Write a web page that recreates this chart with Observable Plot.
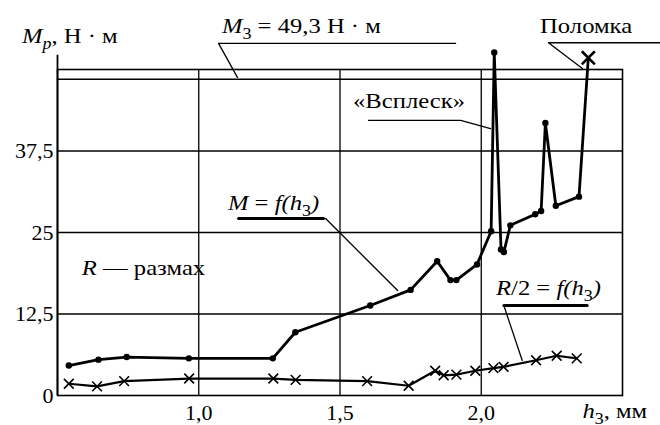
<!DOCTYPE html>
<html>
<head>
<meta charset="utf-8">
<script src="https://cdn.jsdelivr.net/npm/d3@7"></script>
<script src="https://cdn.jsdelivr.net/npm/@observablehq/plot@0.6"></script>
</head>
<body style="margin:0;background:#fff">
<div id="fig"></div>
<script>
// ---- data ----
const mH   = [0.54, 0.645, 0.745, 0.965, 1.262, 1.342, 1.607, 1.750, 1.844, 1.891, 1.912, 1.985, 2.035, 2.046, 2.070, 2.080, 2.103, 2.191, 2.212, 2.227, 2.264, 2.346];
const mVal = [4.6, 5.5, 5.9, 5.7, 5.7, 9.7, 13.8, 16.2, 20.6, 17.7, 17.7, 20.1, 25.2, 52.6, 22.4, 22.0, 26.1, 27.8, 28.3, 41.8, 29.1, 30.5];
const breakH = [2.379];
const breakVal = [51.8];
const rH   = [0.54, 0.64, 0.736, 0.966, 1.264, 1.343, 1.596, 1.743, 1.837, 1.867, 1.912, 1.979, 2.043, 2.079, 2.194, 2.267, 2.338];
const rVal = [1.8, 1.4, 2.2, 2.6, 2.6, 2.4, 2.2, 1.5, 3.8, 3.1, 3.2, 3.8, 4.2, 4.4, 5.4, 6.1, 5.7];
const m3Level = [48.5];
const xTicks = [1.0, 1.5, 2.0];
const yTicks = [0, 12.5, 25, 37.5];

// annotation texts (segments: text, style)
const labelTexts = [
  [["M","i"],["p","isub"],[", Н · м",""]],
  [["M","i"],["3","sub"],[" = 49,3 Н · м",""]],
  [["Поломка",""]],
  [["«Всплеск»",""]],
  [["M","i"],[" = ",""],["f(h","i"],["3","sub"],[")","i"]],
  [["R","i"],[" — размах",""]],
  [["R","i"],["/2 = ",""],["f(h","i"],["3","sub"],[")","i"]],
  [["h","i"],["3","sub"],[", мм",""]]
];
// anchor points (left end of baseline) of annotations, in data units (h3, M)
const labelH = [0.376, 1.084, 2.210, 1.548, 1.105, 0.588, 2.054, 2.36];
const labelM = [54.0, 55.5, 55.5, 44.0, 28.4, 18.4, 15.3, -3.5];

// leader lines and underlines, in data units
const thinLeaders = [
  [[1.909,54.0],[1.070,54.0],[1.137,48.8]],
  [[2.65,54.1],[2.238,54.1],[2.358,50.15]],
  [[1.601,42.2],[1.927,42.2],[2.033,40.95]],
  [[1.449,27.15],[1.704,16.1]],
  [[2.080,13.8],[2.145,5.37]]
];
const thickUnderlines = [
  [[1.141,27.15],[1.442,27.15]],
  [[2.080,13.8],[2.375,13.8]]
];

// ---- build tables ----
const mData = mH.map((h,i) => ({h, v: mVal[i]}));
const mLine = mData.concat(breakH.map((h,i) => ({h, v: breakVal[i]})));
const breakData = breakH.map((h,i) => ({h, v: breakVal[i]}));
const rData = rH.map((h,i) => ({h, v: rVal[i]}));
const flat = arr => arr.flatMap((pts, id) => pts.map(([h,v]) => ({id, h, v})));

const comma1 = d => d.toFixed(1).replace(".", ",");
const commaY = d => String(d).replace(".", ",");

const FONT = "Liberation Serif";

const plot = Plot.plot({
  width: 660,
  height: 425,
  marginLeft: 57,
  marginRight: 38,
  marginTop: 69,
  marginBottom: 30,
  x: {domain: [0.5, 2.5], ticks: xTicks, tickFormat: comma1, tickSize: 0, tickPadding: 9, label: null},
  y: {domain: [0, 50], ticks: yTicks, tickFormat: commaY, tickSize: 0, tickPadding: 4, label: null},
  marks: [
    Plot.ruleX(xTicks, {y1: 0, y2: 50, stroke: "#000", strokeWidth: 1.3}),
    Plot.ruleY(yTicks.filter(d => d > 0), {x1: 0.5, x2: 2.5, stroke: "#000", strokeWidth: 1.3}),
    Plot.ruleY(m3Level, {x1: 0.5, x2: 2.5, stroke: "#000", strokeWidth: 1.5}),
    Plot.frame({stroke: "#000", strokeWidth: 1.6}),
    Plot.ruleX([0.5], {y1: 0, y2: 52.2, stroke: "#000", strokeWidth: 1.8}),
    Plot.line(flat(thinLeaders), {x: "h", y: "v", z: "id", stroke: "#000", strokeWidth: 1.3}),
    Plot.line(flat(thickUnderlines), {x: "h", y: "v", z: "id", stroke: "#000", strokeWidth: 3}),
    Plot.line(rData, {x: "h", y: "v", stroke: "#000", strokeWidth: 2.2}),
    Plot.dot(rData, {x: "h", y: "v", symbol: "times", r: 4.5, stroke: "#000", strokeWidth: 1.6}),
    Plot.line(mLine, {x: "h", y: "v", stroke: "#000", strokeWidth: 2.8}),
    Plot.dot(mData, {x: "h", y: "v", r: 3.2, fill: "#000"}),
    Plot.dot(breakData, {x: "h", y: "v", symbol: "times", r: 6, stroke: "#000", strokeWidth: 2.6})
  ]
});

// scales for the annotations, taken from the plot itself
const sx = plot.scale("x"), sy = plot.scale("y");
const px = v => sx.apply ? sx.apply(v) : d3.scaleLinear(sx.domain, sx.range)(v);
const py = v => sy.apply ? sy.apply(v) : d3.scaleLinear(sy.domain, sy.range)(v);

const svg = d3.select(plot);
// drop Plot's generated class and stylesheet so only our own font settings apply
svg.selectAll("style").remove();
svg.attr("class", null)
   .attr("style", "display:block;background:#fff")
   .attr("font-family", FONT)
   .attr("font-size", 22)
   .attr("fill", "#000");
svg.selectAll("g").attr("font-family", null).attr("font-size", null);
svg.selectAll("text")
   .attr("font-family", FONT)
   .attr("font-size", 22)
   .attr("fill", "#000")
   .style("white-space", "pre");

const g = svg.append("g")
  .attr("fill", "#000")
  .attr("text-anchor", "start")
  .attr("font-family", FONT)
  .attr("font-size", 22);
labelTexts.forEach((parts, i) => {
  // the scanned original is stretched horizontally, so widen the glyphs a little
  const t = g.append("text")
    .attr("transform", `translate(${px(labelH[i])},${py(labelM[i])}) scale(1.12,1)`)
    .attr("font-family", FONT)
    .style("white-space", "pre");
  let shift = 0;
  parts.forEach(([txt, st]) => {
    const sub = st.includes("sub");
    const target = sub ? 6 : 0;
    const ts = t.append("tspan").text(txt);
    if (target !== shift) { ts.attr("dy", target - shift); shift = target; }
    if (st.includes("i")) ts.attr("font-style", "italic");
    if (sub) ts.attr("font-size", 16);
  });
});

document.getElementById("fig").appendChild(plot);
</script>
</body>
</html>
